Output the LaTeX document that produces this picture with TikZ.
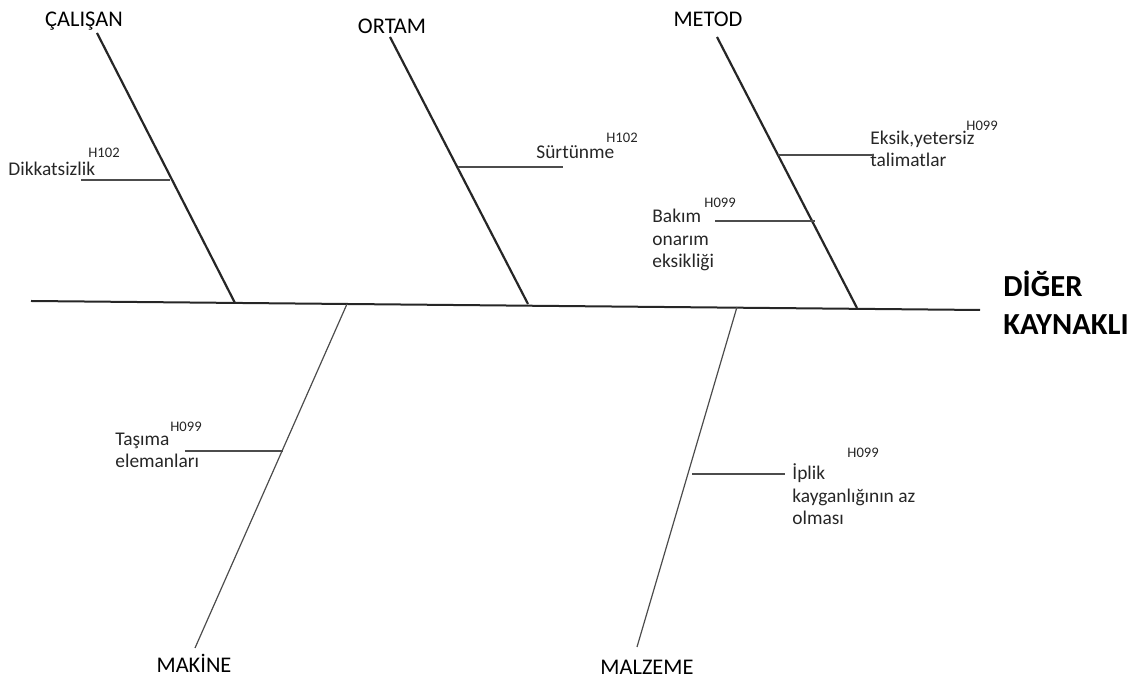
\documentclass[tikz,border=0pt]{standalone}
\usepackage{fontspec}
\setmainfont{Carlito}
\begin{document}
\begin{tikzpicture}[x=0.5pt, y=-0.5pt,
  spine/.style={line width=1pt, black!85},
  bone/.style={line width=1.1pt, black!85},
  lowbone/.style={line width=0.6pt, black!70},
  twig/.style={line width=0.55pt, black!70},
  cat/.style={font=\fontsize{11.2}{13}\selectfont, inner sep=0pt, anchor=base},
  effect/.style={font=\fontsize{15.3}{19}\selectfont\bfseries, inner sep=0pt, anchor=base west, align=left},
  cause/.style={font=\fontsize{9.7}{11.4}\selectfont, inner sep=0pt, anchor=base west, align=left, text=black!85},
  code/.style={font=\fontsize{7.3}{8}\selectfont, inner sep=0pt, anchor=base west, text=black!85}
]
\useasboundingbox (0,0) rectangle (1142,683);
% spine
\coordinate (s0) at (31,301);
\coordinate (s1) at (980,310);
\draw[spine] (s0) -- (s1);
\node[effect] (eff) at (1003,335) {DİĞER\\KAYNAKLI};
% upper bones
\node[cat] (calisan) at (84,27) {ÇALIŞAN};
\node[cat] (ortam) at (392,34) {ORTAM};
\node[cat] (metod) at (708,27) {METOD};
\coordinate (c0) at (97,33);   \coordinate (c1) at (235,303);
\coordinate (o0) at (390,37);  \coordinate (o1) at (528,304);
\coordinate (m0) at (717,37);  \coordinate (m1) at (857,308);
\draw[bone] (c0) -- (c1);
\draw[bone] (o0) -- (o1);
\draw[bone] (m0) -- (m1);
% lower bones
\node[cat] (makine) at (194,673) {MAKİNE};
\node[cat] (malzeme) at (647,675) {MALZEME};
\coordinate (k0) at (347,304); \coordinate (k1) at (195,648);
\coordinate (z0) at (737,307); \coordinate (z1) at (637,647);
\draw[lowbone] (k0) -- (k1);
\draw[lowbone] (z0) -- (z1);
% causes (multi-line nodes sit on their last baseline)
\node[cause] (dikkat) at (8,176) {Dikkatsizlik};
\node[code] (h1) at (88,158) {H102};
\coordinate (d0) at (81,180); \coordinate (d1) at (170,180);
\draw[twig] (d0) -- (d1);

\node[cause] (surtun) at (536,159) {Sürtünme};
\node[code] (h2) at (606,143) {H102};
\coordinate (r0) at (458,167); \coordinate (r1) at (563,167);
\draw[twig] (r0) -- (r1);

\node[cause] (eksik) at (870,167) {Eksik,yetersiz\\talimatlar};
\node[code] (h3) at (966,131) {H099};
\coordinate (e0) at (778,155); \coordinate (e1) at (874,155);
\draw[twig] (e0) -- (e1);

\node[cause] (bakim) at (652,268) {Bakım\\onarım\\eksikliği};
\node[code] (h4) at (704,208) {H099};
\coordinate (b0) at (715,221); \coordinate (b1) at (815,221);
\draw[twig] (b0) -- (b1);

\node[cause] (tasima) at (115,468) {Taşıma\\elemanları};
\node[code] (h5) at (170,432) {H099};
\coordinate (t0) at (185,451); \coordinate (t1) at (283,451);
\draw[twig] (t0) -- (t1);

\node[cause] (iplik) at (792,525) {İplik\\kayganlığının az\\olması};
\node[code] (h6) at (847,458) {H099};
\coordinate (i0) at (692,474); \coordinate (i1) at (785,474);
\draw[twig] (i0) -- (i1);
\end{tikzpicture}
\end{document}
